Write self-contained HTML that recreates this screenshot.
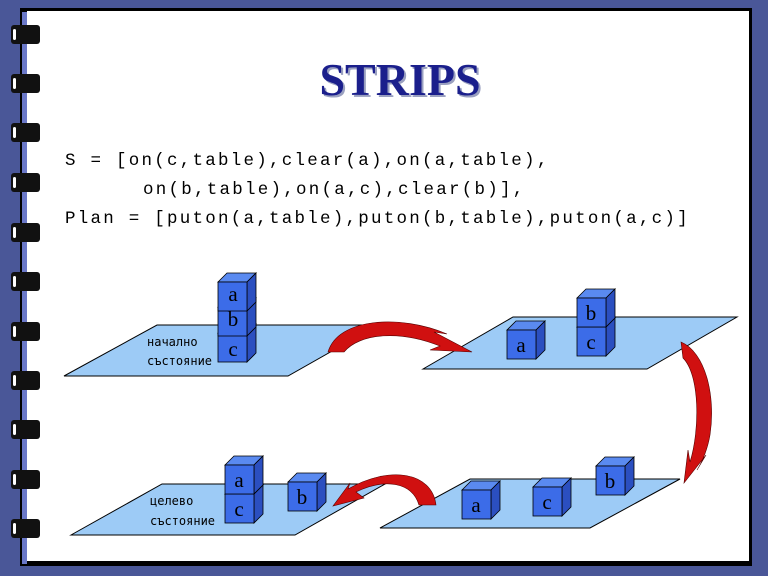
<!DOCTYPE html>
<html><head><meta charset="utf-8"><style>
body{margin:0;width:768px;height:576px;overflow:hidden;background:#4a5798;}
svg{display:block}
</style></head><body>
<svg width="768" height="576" viewBox="0 0 768 576" font-family="Liberation Serif, serif">
<rect x="0" y="0" width="768" height="576" fill="#4a5798"/>
<rect x="20" y="8" width="732" height="558" fill="#000"/>
<rect x="22" y="12" width="5" height="552" fill="#6a78c8"/>
<rect x="27" y="11" width="722" height="550" fill="#fff"/>
<g fill="#111">
<g id="r"><rect x="11" y="25" width="29" height="19" rx="3"/><rect x="13" y="29" width="3" height="11" rx="1.5" fill="#fff"/></g>
<use href="#r" y="49"/><use href="#r" y="98"/><use href="#r" y="148"/><use href="#r" y="198"/><use href="#r" y="247"/><use href="#r" y="297"/><use href="#r" y="346"/><use href="#r" y="395"/><use href="#r" y="445"/><use href="#r" y="494"/>
</g>
<text x="402" y="97" text-anchor="middle" font-size="46" font-weight="bold" fill="#9aa0c0">STRIPS</text>
<text x="400" y="95" text-anchor="middle" font-size="46" font-weight="bold" fill="#1b1f8c">STRIPS</text>
<g font-family="Liberation Mono, monospace" font-size="17.5" letter-spacing="2.25" fill="#000">
<text x="65" y="165">S = [on(c,table),clear(a),on(a,table),</text>
<text x="143" y="194">on(b,table),on(a,c),clear(b)],</text>
<text x="65" y="223">Plan = [puton(a,table),puton(b,table),puton(a,c)]</text>
</g>
<g fill="#9dcbf6" stroke="#000" stroke-width="1">
<polygon points="64,376 157,325 378,325 288,376"/>
<polygon points="423,369 513,317 737,317 647,369"/>
<polygon points="71,535 162,484 385,484 295,535"/>
<polygon points="380,528 470,479 680,479 590,528"/>
</g>
<defs>
<g id="cube" stroke="#000" stroke-width="0.8">
<polygon points="0,0 9,-9 38,-9 29,0" fill="#5a8af0"/>
<polygon points="29,0 38,-9 38,20 29,29" fill="#2b4fc0"/>
<rect x="0" y="0" width="29" height="29" fill="#3c6ce8"/>
</g>
</defs>
<g font-size="21" text-anchor="middle" fill="#000">
<use href="#cube" x="218" y="333"/><use href="#cube" x="218" y="307"/><use href="#cube" x="218" y="282"/>
<text x="233" y="301">a</text><text x="233" y="326">b</text><text x="233" y="356">c</text>
<use href="#cube" x="507" y="330"/><text x="521" y="352">a</text>
<use href="#cube" x="577" y="327"/><use href="#cube" x="577" y="298"/>
<text x="591" y="320">b</text><text x="591" y="349">c</text>
<use href="#cube" x="462" y="490"/><text x="476" y="512">a</text>
<use href="#cube" x="533" y="487"/><text x="547" y="509">c</text>
<use href="#cube" x="596" y="466"/><text x="610" y="488">b</text>
<use href="#cube" x="225" y="494"/><use href="#cube" x="225" y="465"/>
<text x="239" y="487">a</text><text x="239" y="516">c</text>
<use href="#cube" x="288" y="482"/><text x="302" y="504">b</text>
</g>
<g font-family="DejaVu Sans Mono, monospace" font-size="12" fill="#000">
<text x="147" y="346">начално</text><text x="147" y="365">състояние</text>
<text x="150" y="505">целево</text><text x="150" y="525">състояние</text>
</g>
<g fill="#d01010" stroke="#500" stroke-width="0.6">
<path d="M328,352 C338,318 400,314 447,334 L434,332 L472,352 L430,350 L440,346 C400,330 360,333 344,352 Z"/>
<path d="M681,342 C705,352 716,395 710,435 C707,452 702,462 697,470 L706,455 L684,483 L688,450 L690,462 C700,430 700,375 683,358 Z"/>
<path d="M436,505 L419,505 C412,482 385,478 356,492 L364,498 L333,506 L350,483 L348,489 C390,465 432,472 436,505 Z"/>
</g>
</svg>
</body></html>
